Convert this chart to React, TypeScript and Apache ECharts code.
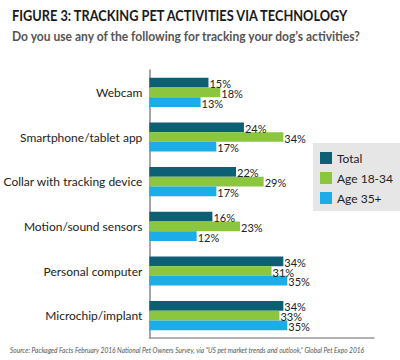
import React, { useEffect, useRef } from "react";
import * as echarts from "echarts";

const categories = [
  "Webcam",
  "Smartphone/tablet app",
  "Collar with tracking device",
  "Motion/sound sensors",
  "Personal computer",
  "Microchip/implant",
];
const seriesNames = ["Total", "Age 18-34", "Age 35+"];
const totalValues = [15, 24, 22, 16, 34, 34];
const age1834Values = [18, 34, 29, 23, 31, 33];
const age35Values = [13, 17, 17, 12, 35, 35];
const colors = ["#0d5f74", "#8cc63f", "#1cade8"];

const TITLE = "FIGURE 3: TRACKING PET ACTIVITIES VIA TECHNOLOGY";
const SUBTITLE = "Do you use any of the following for tracking your dog\u2019s activities?";
const SOURCE =
  "Source: Packaged Facts February 2016 National Pet Owners Survey, via \u201cUS pet market trends and outlook,\u201d Global Pet Expo 2016";

const FONT = "Lato, 'Open Sans', sans-serif";

function measure(text: string, font: string): number {
  const c = document.createElement("canvas").getContext("2d");
  if (!c) return 0;
  c.font = font;
  return c.measureText(text).width;
}

export default function App() {
  const ref = useRef<HTMLDivElement>(null);
  useEffect(() => {
    if (!ref.current) return;
    const chart = echarts.init(ref.current, null, { renderer: "svg" });
    const data = [totalValues, age1834Values, age35Values];
    const titleFont = "bold 16px Lato, 'Open Sans', sans-serif";
    const subFont = "bold 13px Lato, 'Open Sans', sans-serif";
    const srcFont = "italic 7.5px Lato, 'Open Sans', sans-serif";
    const tW = measure(TITLE, titleFont) || 450;
    const sW = measure(SUBTITLE, subFont) || 380;
    const srcW = measure(SOURCE, srcFont) || 380;
    const tScale = Math.min(1, 338 / tW);
    const sScale = Math.min(1, 350 / sW);
    const srcScale = Math.min(1, 355 / srcW);
    chart.setOption({
      animation: false,
      backgroundColor: "#ffffff",
      textStyle: { fontFamily: FONT },
      graphic: [
        {
          type: "text",
          x: 12,
          y: 7,
          scaleX: tScale,
          style: { text: TITLE, font: titleFont, fill: "#1a1a1a", textVerticalAlign: "top" },
        },
        {
          type: "text",
          x: 12,
          y: 30,
          scaleX: sScale,
          style: { text: SUBTITLE, font: subFont, fill: "#555555", textVerticalAlign: "top" },
        },
        {
          type: "text",
          x: 10,
          y: 346,
          scaleX: srcScale,
          style: { text: SOURCE, font: srcFont, fill: "#555555", textVerticalAlign: "top" },
        },
      ],
      legend: {
        orient: "vertical",
        left: 313,
        top: 143,
        data: seriesNames,
        icon: "rect",
        itemWidth: 12,
        itemHeight: 12,
        itemGap: 8,
        backgroundColor: "#e6e6e6",
        padding: [9, 12, 7, 7],
        textStyle: { fontFamily: FONT, fontSize: 12, color: "#222222" },
      },
      grid: { left: 147, top: 70, width: 227, height: 268 },
      xAxis: {
        type: "value",
        min: 0,
        max: 57,
        axisLine: { show: true, lineStyle: { color: "#999999", width: 1.5 } },
        axisTick: { show: false },
        axisLabel: { show: false },
        splitLine: { show: false },
      },
      yAxis: {
        type: "category",
        data: categories,
        inverse: true,
        axisLine: { show: true, lineStyle: { color: "#888888", width: 1.5 } },
        axisTick: { show: false },
        axisLabel: { fontFamily: FONT, fontSize: 12, color: "#222222", margin: 7 },
      },
      series: seriesNames.map((name, i) => ({
        name,
        type: "bar",
        data: data[i],
        barWidth: 9.7,
        barGap: "0%",
        itemStyle: { color: colors[i] },
        label: {
          show: true,
          position: "right",
          distance: 1,
          formatter: "{c}%",
          fontFamily: FONT,
          fontSize: 11,
          color: "#222222",
          offset: [0, 1],
        },
      })),
    });
    return () => chart.dispose();
  }, []);
  return <div ref={ref} style={{ width: 400, height: 360, position: "absolute", left: 0, top: 0 }} />;
}
